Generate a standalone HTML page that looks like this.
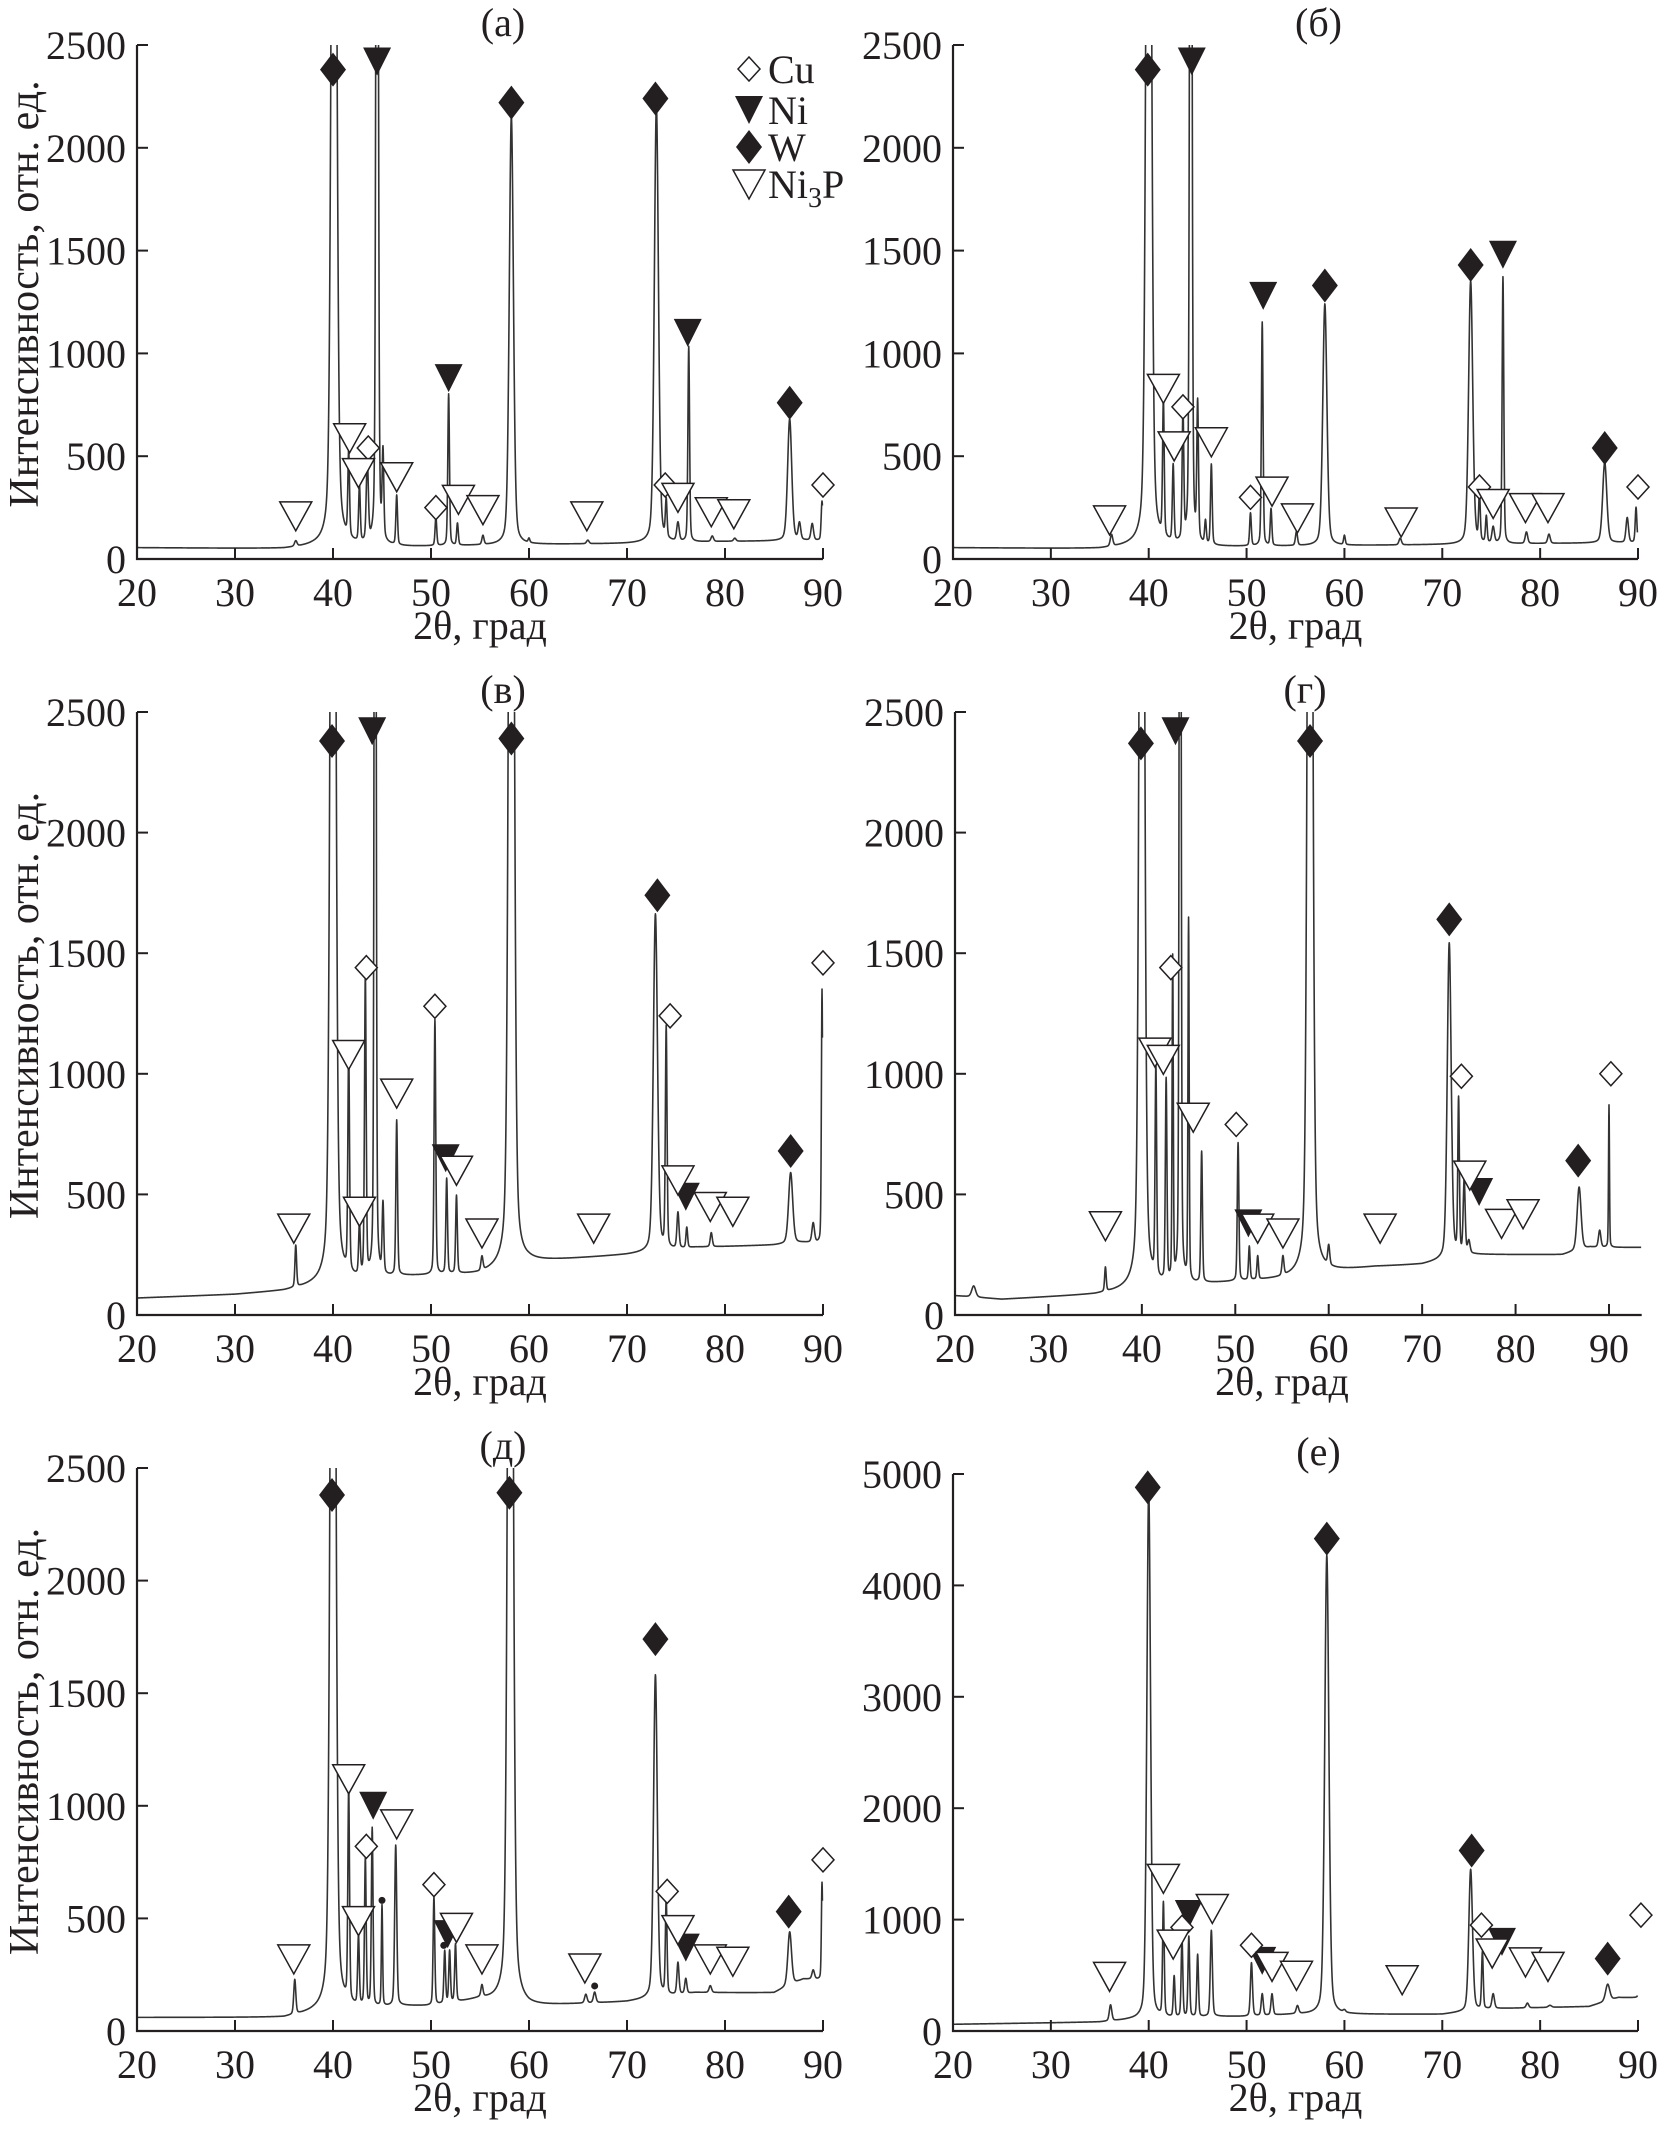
<!DOCTYPE html>
<html><head><meta charset="utf-8"><style>
html,body{margin:0;padding:0;background:#fff;}
svg{display:block;}
text{font-family:"Liberation Serif",serif;fill:#231f20;}
</style></head>
<body>
<svg id="fig" xmlns="http://www.w3.org/2000/svg" width="1661" height="2131" viewBox="0 0 1661 2131"></svg>
<script>
// ---------- DATA (peaks: [2theta, intensity, fwhm]; baseline: [2theta, intensity]; markers: [2theta, intensity]) ----------
const yTicks2500 = [0, 500, 1000, 1500, 2000, 2500];
const yTicks5000 = [0, 1000, 2000, 3000, 4000, 5000];
const xTicks = [20, 30, 40, 50, 60, 70, 80, 90];

const peaksA = [[36.2,80,0.3],[40.1,6000,0.55],[41.6,470,0.2],[42.7,330,0.2],[43.5,450,0.25],[44.5,6000,0.25],[45.1,470,0.2],[46.5,300,0.2],[50.5,200,0.2],[51.8,800,0.2],[52.7,170,0.2],[55.3,110,0.25],[58.2,2150,0.5],[60.0,90,0.2],[66.0,90,0.3],[73.0,2200,0.5],[74.0,260,0.2],[75.2,170,0.3],[76.3,1030,0.2],[78.7,110,0.3],[81.0,100,0.3],[86.6,680,0.5],[87.6,170,0.3],[88.9,170,0.3],[89.9,280,0.2]];
const baseA = [[20,55],[35,50],[38,60],[48,60],[60,70],[70,75],[80,85],[90,90]];
const wA = [[40.0,2380],[58.2,2220],[72.9,2240],[86.6,760]];
const niA = [[44.5,2420],[51.8,880],[76.2,1100]];
const cuA = [[43.6,540],[50.5,250],[73.9,360],[90.0,360]];
const ni3pA = [[36.2,210],[41.7,590],[42.6,420],[46.5,400],[52.8,290],[55.3,240],[65.9,210],[75.2,300],[78.6,230],[80.9,220]];

const peaksB = [[36.2,110,0.3],[40.0,6000,0.55],[41.5,720,0.2],[42.5,430,0.2],[43.5,680,0.2],[44.3,6000,0.25],[45.0,720,0.2],[45.8,170,0.2],[46.4,450,0.2],[50.4,220,0.2],[51.6,1150,0.2],[52.5,240,0.2],[55.1,130,0.25],[58.0,1240,0.5],[60.0,110,0.2],[65.7,100,0.3],[72.9,1350,0.5],[73.8,300,0.2],[74.5,200,0.2],[75.2,150,0.3],[76.2,1370,0.2],[78.6,130,0.3],[80.9,120,0.3],[86.6,470,0.5],[88.9,200,0.3],[89.8,250,0.2]];
const baseB = [[20,55],[35,50],[38,60],[48,60],[60,65],[70,70],[80,75],[90,80]];
const wB = [[39.9,2380],[58.0,1330],[72.9,1430],[86.6,540]];
const niB = [[44.4,2420],[51.7,1280],[76.2,1480]];
const cuB = [[43.5,740],[50.4,300],[73.8,350],[90.0,350]];
const ni3pB = [[36.0,190],[41.5,830],[42.6,550],[46.4,570],[52.6,330],[55.2,200],[65.8,180],[75.2,270],[78.5,250],[80.8,250]];

const peaksV = [[36.2,280,0.2],[40.0,6000,0.55],[41.6,1050,0.2],[42.7,350,0.2],[43.3,1380,0.2],[44.3,6000,0.2],[45.1,440,0.2],[46.5,800,0.2],[50.4,1220,0.2],[51.6,560,0.2],[52.6,490,0.2],[55.2,230,0.25],[58.2,6000,0.55],[72.9,1660,0.5],[74.0,1180,0.2],[75.2,420,0.25],[76.1,360,0.2],[78.6,340,0.25],[86.7,590,0.5],[89.0,380,0.3],[89.9,1350,0.15]];
const baseV = [[20,70],[30,85],[35,100],[38,120],[47,160],[55,170],[60,220],[70,250],[77,280],[85,290],[88,300],[90,300]];
const wV = [[39.9,2380],[58.2,2390],[73.1,1740],[86.7,680]];
const niV = [[44.0,2420],[51.5,650],[76.0,490]];
const cuV = [[43.4,1440],[50.4,1280],[74.4,1240],[90.0,1460]];
const ni3pV = [[36.0,360],[41.6,1080],[42.7,430],[46.5,920],[52.6,600],[55.2,340],[66.6,360],[75.2,560],[78.5,450],[80.8,430]];

const peaksG = [[22.0,120,0.5],[36.1,190,0.2],[40.0,6000,0.55],[41.5,980,0.2],[42.6,950,0.2],[43.3,1450,0.15],[44.1,6000,0.2],[45.0,1620,0.15],[46.4,670,0.2],[50.3,710,0.2],[51.5,280,0.2],[52.4,240,0.2],[55.1,230,0.25],[58.0,6000,0.55],[60.0,260,0.25],[72.9,1540,0.5],[73.9,880,0.2],[74.5,550,0.25],[75.0,300,0.3],[86.8,530,0.5],[89.0,350,0.3],[90.0,870,0.12]];
const baseG = [[20,80],[25,65],[35,85],[38,100],[47,130],[55,150],[60,180],[65,200],[70,210],[75,250],[85,250],[88,280],[93.5,280]];
const wG = [[39.9,2370],[58.0,2380],[72.9,1640],[86.7,640]];
const niG = [[43.6,2420],[51.4,380],[76.1,510]];
const cuG = [[43.1,1440],[50.1,790],[74.2,990],[90.2,1000]];
const ni3pG = [[36.1,370],[41.4,1090],[42.3,1060],[45.5,820],[52.4,360],[55.1,340],[65.5,360],[75.1,580],[78.5,380],[80.8,420]];

const peaksD = [[36.1,220,0.25],[40.0,6000,0.55],[41.6,1030,0.2],[42.6,400,0.2],[43.3,750,0.2],[44.0,890,0.2],[45.0,550,0.15],[46.4,820,0.25],[50.3,590,0.2],[51.4,350,0.2],[51.9,350,0.2],[52.5,380,0.2],[55.2,190,0.25],[58.1,6000,0.55],[65.8,160,0.3],[66.7,170,0.3],[72.9,1580,0.45],[74.0,570,0.2],[75.2,300,0.25],[76.0,230,0.25],[78.5,200,0.3],[80.8,170,0.3],[86.6,440,0.45],[89.0,270,0.3],[89.9,660,0.15]];
const baseD = [[20,60],[35,60],[38,80],[47,110],[50,110],[55,140],[60,110],[70,130],[77,170],[85,170],[88,230],[90,230]];
const wD = [[39.9,2380],[58.0,2390],[72.9,1740],[86.5,530]];
const niD = [[44.1,1000],[51.7,430],[76.0,370]];
const cuD = [[43.4,820],[50.3,650],[74.1,620],[90.0,760]];
const ni3pD = [[36.0,320],[41.6,1120],[42.6,490],[46.5,920],[52.6,460],[55.2,320],[65.7,280],[75.2,450],[78.5,320],[80.8,310]];
const dotD = [[45.0,580],[51.3,380],[66.7,200]];

const peaksE = [[36.1,230,0.3],[40.0,4850,0.45],[41.5,1130,0.2],[42.6,480,0.2],[43.4,820,0.2],[44.1,840,0.2],[45.0,680,0.2],[46.4,900,0.25],[50.5,610,0.25],[51.6,330,0.25],[52.6,330,0.25],[55.2,220,0.3],[58.2,4270,0.5],[60.0,170,0.3],[72.9,1450,0.45],[74.1,700,0.2],[75.2,330,0.3],[78.7,250,0.3],[81.0,230,0.4],[86.9,420,0.5],[89.0,300,0.3],[90.1,730,0.12]];
const baseE = [[20,60],[35,80],[38,100],[47,130],[50,130],[55,150],[60,150],[70,150],[75,200],[85,220],[88,300],[90,300]];
const wE = [[39.9,4880],[58.2,4420],[73.0,1620],[86.9,650]];
const niE = [[44.1,1050],[51.6,630],[76.1,800]];
const cuE = [[43.4,930],[50.5,770],[74.0,950],[90.3,1040]];
const ni3pE = [[36.0,490],[41.5,1370],[42.5,780],[46.5,1100],[52.6,580],[55.1,500],[65.9,460],[75.1,700],[78.5,620],[80.8,580]];

// ---------- RENDER ----------
const NS = "http://www.w3.org/2000/svg";
const svg = document.getElementById('fig');
function mk(tag, attrs, parent){
  const e = document.createElementNS(NS, tag);
  for (const k in attrs) e.setAttribute(k, attrs[k]);
  (parent||svg).appendChild(e);
  return e;
}
function baseAt(base, x){
  if (x <= base[0][0]) return base[0][1];
  for (let i=1;i<base.length;i++){
    if (x <= base[i][0]){
      const [x0,y0]=base[i-1],[x1,y1]=base[i];
      return y0 + (y1-y0)*(x-x0)/(x1-x0);
    }
  }
  return base[base.length-1][1];
}
function profile(peaks, base, x){
  let v = baseAt(base, x);
  for (const [p,h,w] of peaks){
    const amp = h - baseAt(base,p);
    const t = (x-p)/(w/2);
    v += amp*(0.3/(1+t*t) + 0.7*Math.exp(-0.693*t*t));
  }
  return v;
}

const panelDefs = [
  {id:'a', title:'(а)', X0:137, X90:823, top:45, bot:559, ymax:2500, xEnd:90, yt:yTicks2500, peaks:peaksA, base:baseA, w:wA, ni:niA, cu:cuA, n3:ni3pA, ylab:true, legend:true},
  {id:'b', title:'(б)', X0:953, X90:1638, top:45, bot:559, ymax:2500, xEnd:90, yt:yTicks2500, peaks:peaksB, base:baseB, w:wB, ni:niB, cu:cuB, n3:ni3pB},
  {id:'v', title:'(в)', X0:137, X90:823, top:712, bot:1315, ymax:2500, xEnd:90, yt:yTicks2500, peaks:peaksV, base:baseV, w:wV, ni:niV, cu:cuV, n3:ni3pV, ylab:true},
  {id:'g', title:'(г)', X0:955, X90:1609, top:712, bot:1315, ymax:2500, xEnd:93.5, yt:yTicks2500, peaks:peaksG, base:baseG, w:wG, ni:niG, cu:cuG, n3:ni3pG},
  {id:'d', title:'(д)', X0:137, X90:823, top:1468, bot:2031, ymax:2500, xEnd:90, yt:yTicks2500, peaks:peaksD, base:baseD, w:wD, ni:niD, cu:cuD, n3:ni3pD, ylab:true, dots:dotD},
  {id:'e', title:'(е)', X0:953, X90:1638, top:1474, bot:2031, ymax:5000, xEnd:90, yt:yTicks5000, peaks:peaksE, base:baseE, w:wE, ni:niE, cu:cuE, n3:ni3pE}
];

function drawW(g,x,y){ const e=mk('path',{d:`M${x} ${y-17}L${x+13} ${y}L${x} ${y+17}L${x-13} ${y}Z`,fill:'#231f20'},g);
    }
function drawNi(g,x,y){ const e=mk('path',{d:`M${x-14} ${y-14}L${x+14} ${y-14}L${x} ${y+14}Z`,fill:'#231f20'},g);
    }
function drawCu(g,x,y){ const e=mk('path',{d:`M${x} ${y-12}L${x+11} ${y}L${x} ${y+12}L${x-11} ${y}Z`,fill:'#fff',stroke:'#231f20','stroke-width':1.5},g);
    }
function drawN3(g,x,y){ const e=mk('path',{d:`M${x-16} ${y-14}L${x+16} ${y-14}L${x} ${y+15}Z`,fill:'#fff',stroke:'#231f20','stroke-width':1.5},g);
    }

for (const P of panelDefs){
  const g = mk('g',{});
  
  
  const sx = x => P.X0 + (x-20)*(P.X90-P.X0)/70;
  const sy = v => P.bot - v/P.ymax*(P.bot-P.top);
  const xRight = sx(P.xEnd);

  const cp = mk('clipPath',{id:'clip-'+P.id},g);
  mk('rect',{x:P.X0,y:P.top,width:xRight-P.X0+2,height:P.bot-P.top},cp);

  let d='';
  for (let i=0;;i++){
    const x = 20 + i*0.02;
    if (x > P.xEnd-0.05) break;
    const v = profile(P.peaks,P.base,x);
    d += (i?'L':'M') + sx(x).toFixed(2) + ' ' + sy(v).toFixed(2);
  }
  const line = mk('path',{d:d,fill:'none',stroke:'#333','stroke-width':1.6,'clip-path':`url(#clip-${P.id})`,'stroke-linejoin':'round'},g);
  
  

  const ax = mk('path',{d:`M${P.X0} ${P.top}L${P.X0} ${P.bot}L${xRight} ${P.bot}`,fill:'none',stroke:'#231f20','stroke-width':2.2},g);
  
  

  for (const t of P.yt){
    const y = sy(t);
    mk('line',{x1:P.X0,y1:y,x2:P.X0+11,y2:y,stroke:'#231f20','stroke-width':2},g);
    const tl = mk('text',{x:P.X0-11,y:y+14,'font-size':40,'text-anchor':'end'},g);
    tl.textContent = t;
    
    
  }
  for (const t of xTicks){
    const x = sx(t);
    mk('line',{x1:x,y1:P.bot,x2:x,y2:P.bot-11,stroke:'#231f20','stroke-width':2},g);
    const tl = mk('text',{x:x,y:P.bot+47,'font-size':40,'text-anchor':'middle'},g);
    tl.textContent = t;
    
    
  }
  const midX = (P.X0+P.X90)/2;
  const ti = mk('text',{x:midX+23,y:P.top-9,'font-size':40,'text-anchor':'middle'},g);
  ti.textContent = P.title;
  
  
  const xl = mk('text',{x:midX,y:P.bot+80,'font-size':40,'text-anchor':'middle'},g);
  xl.textContent = '2θ, град';
  
  
  if (P.ylab){
    const cy = (P.top+P.bot)/2 - 8;
    const yl = mk('text',{x:0,y:0,'font-size':42,'text-anchor':'middle',transform:`translate(38 ${cy}) rotate(-90)`},g);
    yl.textContent = 'Интенсивность, отн. ед.';
    
    
  }

  for (const [x,v] of P.w) drawW(g,sx(x),sy(v));
  for (const [x,v] of P.ni) drawNi(g,sx(x),sy(v));
  for (const [x,v] of P.cu) drawCu(g,sx(x),sy(v));
  for (const [x,v] of P.n3) drawN3(g,sx(x),sy(v));
  if (P.dots) for (const [x,v] of P.dots){
    const c = mk('circle',{cx:sx(x),cy:sy(v),r:3.5,fill:'#231f20'},g);
    
    
  }

  if (P.legend){
    const lg = mk('g',{},g);
    
    
    const lx = 749, items = [['Cu',69],['Ni',110],['W',147],['Ni3P',184]];
    drawCu(lg,lx,69); drawNi(lg,lx,110); drawW(lg,lx,147); drawN3(lg,lx,184);
    for (const [lab,y] of items){
      const t = mk('text',{x:768,y:y+14,'font-size':40},lg);
      
      
      if (lab==='Ni3P'){
        t.appendChild(document.createTextNode('Ni'));
        const s = mk('tspan',{'font-size':28,dy:9},t); s.textContent='3';
        const s2 = mk('tspan',{'font-size':40,dy:-9},t); s2.textContent='P';
      } else t.textContent = lab;
    }
  }
}
</script>
</body></html>
